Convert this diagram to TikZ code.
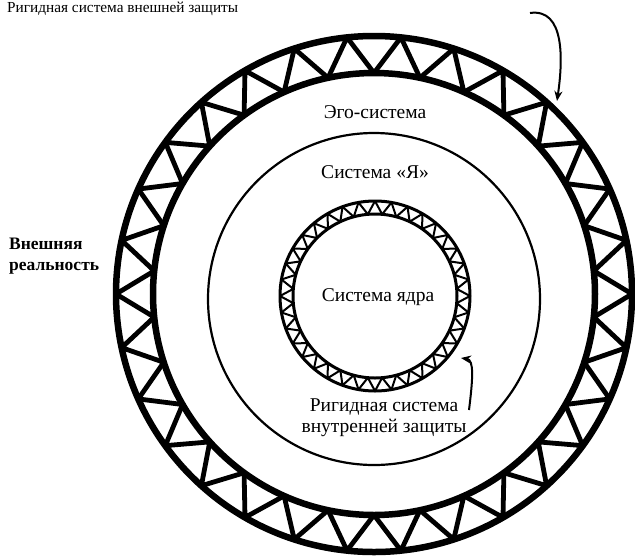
\documentclass[tikz,border=0pt]{standalone}
\usepackage{fontspec}
\setmainfont{Liberation Serif}
\usetikzlibrary{arrows.meta}
\begin{document}
\begin{tikzpicture}[x=1pt,y=-1pt,
  thickring/.style={line width=6.5pt},
  thintruss/.style={line width=4.8pt,line join=round,line cap=round},
  smallring/.style={line width=3pt},
  smalltruss/.style={line width=2pt,line join=round},
  midcircle/.style={line width=2.2pt},
  lbl/.style={font=\fontsize{19.5}{22}\selectfont,inner sep=0pt},
  pointer/.style={line width=2pt,-{Stealth[length=10pt,width=8pt]}}]
\useasboundingbox (0,0) rectangle (635,558);
\fill[white] (0,0) rectangle (635,558);
% outer ring
\draw[thickring] (374,294) circle[radius=258pt];
\draw[thickring] (374,294) circle[radius=221pt];
\draw[thintruss] \foreach \i in {0,...,29} {
  ({374+258*cos(\i*12)},{294+258*sin(\i*12)}) --
  ({374+221*cos(\i*12+6)},{294+221*sin(\i*12+6)}) --
  ({374+258*cos(\i*12+12)},{294+258*sin(\i*12+12)})};
% middle circle
\draw[midcircle] (374,299) circle[radius=166pt];
% inner ring
\draw[smallring] (375,296) circle[radius=95pt];
\draw[smallring] (375,296) circle[radius=82pt];
\draw[smalltruss] \foreach \i in {0,...,35} {
  ({375+95*cos(\i*10)},{296+95*sin(\i*10)}) --
  ({375+82*cos(\i*10+5)},{296+82*sin(\i*10+5)}) --
  ({375+95*cos(\i*10+10)},{296+95*sin(\i*10+10)})};
% labels
\node[lbl,anchor=west,font=\fontsize{15.3}{18}\selectfont] (ext) at (7,9) {Ригидная система внешней защиты};
\node[lbl] (ego) at (375,112) {Эго-система};
\node[lbl] (ya) at (375,172) {Система «Я»};
\node[lbl] (core) at (378,297) {Система ядра};
\node[lbl,align=center] (intdef) at (384,418) {Ригидная система\\[-1pt]внутренней защиты};
\node[lbl,anchor=west,align=left,font=\fontsize{17.5}{21}\selectfont\bfseries] (real) at (9,256) {Внешняя\\реальность};
% pointers
\coordinate (a1s) at (530,13);
\coordinate (a1e) at (557,101);
\coordinate (a2s) at (469,410);
\coordinate (a2e) at (461,358);
\draw[pointer] (a1s) .. controls (565,8) and (563,60) .. (a1e);
\draw[pointer] (a2s) .. controls (473,378) and (474,360) .. (a2e);
\end{tikzpicture}
\end{document}
